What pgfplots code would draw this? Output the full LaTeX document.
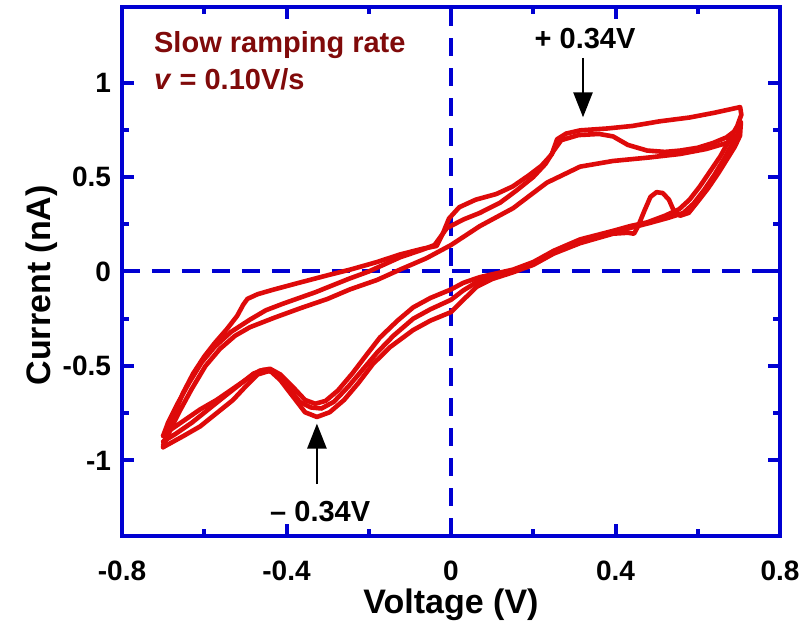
\documentclass[border=0pt]{standalone}
\usepackage{fontspec}
\setmainfont{Liberation Sans}
\usepackage{pgfplots}
\pgfplotsset{compat=1.18}
\usetikzlibrary{arrows.meta}
\definecolor{axblue}{RGB}{0,0,210}
\definecolor{cvred}{RGB}{222,10,10}
\definecolor{txtred}{RGB}{128,10,10}
\tikzset{cv/.style={cvred, line width=2.3pt, line join=round, line cap=round, mark=none}}

\begin{document}
\begin{tikzpicture}
\begin{axis}[
  scale only axis, width=329pt, height=264.5pt,
  xmin=-0.8, xmax=0.8, ymin=-1.4, ymax=1.4,
  xtick={-0.8,-0.4,0,0.4,0.8}, ytick={-1,-0.5,0,0.5,1},
  minor x tick num=1, minor y tick num=1,
  tick align=inside,
  major tick length=6pt, minor tick length=3.5pt,
  every tick/.style={axblue, line width=2pt},
  axis line style={axblue, line width=2pt},
  /pgf/number format/assume math mode=true,
  ticklabel style={font=\bfseries\fontsize{14}{14}\selectfont},
  xticklabel style={yshift=-9pt},
  yticklabel style={xshift=-2pt},
  xlabel={Voltage (V)}, ylabel={Current (nA)},
  label style={font=\bfseries\fontsize{17}{17}\selectfont},
  xlabel style={at={(axis description cs:0.5,-0.146)}, anchor=base},
  ylabel style={at={(axis description cs:-0.109,0.474)}, anchor=base, rotate=0},
]
\coordinate (bl) at (rel axis cs:0,0);
\coordinate (tr) at (rel axis cs:1,1);
\draw[axblue, line width=2pt, dash pattern=on 9pt off 6pt] (axis cs:-0.8,0) -- (axis cs:0.8,0);
\draw[axblue, line width=2pt, dash pattern=on 9pt off 6pt] (axis cs:0,-1.4) -- (axis cs:0,1.4);

% cycle A
\addplot[cv] coordinates {(-0.700,-0.920) (-0.690,-0.850) (-0.672,-0.750) (-0.652,-0.645) (-0.627,-0.540) (-0.600,-0.450) (-0.575,-0.380) (-0.545,-0.305) (-0.520,-0.235) (-0.505,-0.175) (-0.495,-0.145) (-0.470,-0.120) (-0.430,-0.095) (-0.370,-0.060) (-0.300,-0.020) (-0.245,0.010) (-0.180,0.050) (-0.124,0.090) (-0.070,0.120) (-0.035,0.135) (-0.020,0.200) (-0.005,0.280) (0.020,0.340) (0.060,0.380) (0.110,0.410) (0.150,0.450) (0.190,0.510) (0.220,0.560) (0.245,0.620) (0.258,0.700) (0.280,0.730) (0.314,0.747) (0.380,0.757) (0.440,0.770) (0.508,0.795) (0.580,0.815) (0.640,0.840) (0.703,0.870)
(0.706,0.830) (0.696,0.770) (0.678,0.700) (0.655,0.610) (0.630,0.530) (0.605,0.450) (0.580,0.380) (0.555,0.330) (0.520,0.295) (0.477,0.260) (0.435,0.240) (0.394,0.215) (0.314,0.170) (0.250,0.110) (0.200,0.050) (0.151,0.010) (0.100,-0.015) (0.070,-0.030) (0.030,-0.060) (0.000,-0.095) (-0.050,-0.140) (-0.092,-0.190) (-0.130,-0.260) (-0.173,-0.350) (-0.205,-0.440) (-0.240,-0.540) (-0.275,-0.630) (-0.305,-0.685) (-0.330,-0.700) (-0.355,-0.680) (-0.385,-0.610) (-0.415,-0.545) (-0.440,-0.515) (-0.465,-0.525) (-0.500,-0.575) (-0.530,-0.620) (-0.570,-0.680) (-0.610,-0.730) (-0.650,-0.790) (-0.680,-0.835) (-0.700,-0.870)};

% cycle B
\addplot[cv] coordinates {(-0.700,-0.870) (-0.688,-0.800) (-0.665,-0.700) (-0.637,-0.590) (-0.606,-0.480) (-0.575,-0.400) (-0.535,-0.320) (-0.489,-0.255) (-0.450,-0.205) (-0.408,-0.170) (-0.330,-0.110) (-0.250,-0.040) (-0.200,0.000) (-0.124,0.075) (-0.070,0.115) (-0.040,0.140) (-0.010,0.230) (0.030,0.275) (0.070,0.310) (0.120,0.365) (0.160,0.430) (0.200,0.500) (0.230,0.570) (0.250,0.640) (0.268,0.695) (0.310,0.722) (0.360,0.728) (0.394,0.715) (0.430,0.670) (0.477,0.640) (0.520,0.633) (0.557,0.640) (0.600,0.655) (0.637,0.680) (0.670,0.710) (0.700,0.760)
(0.703,0.720) (0.690,0.660) (0.670,0.590) (0.650,0.520) (0.625,0.440) (0.600,0.370) (0.578,0.310) (0.557,0.295) (0.542,0.320) (0.530,0.380) (0.515,0.415) (0.500,0.420) (0.485,0.395) (0.470,0.320) (0.455,0.240) (0.445,0.200) (0.430,0.205) (0.394,0.200) (0.314,0.150) (0.250,0.095) (0.200,0.035) (0.150,-0.005) (0.100,-0.040) (0.063,-0.080) (0.030,-0.150) (0.000,-0.215) (-0.050,-0.260) (-0.092,-0.310) (-0.148,-0.400) (-0.190,-0.490) (-0.225,-0.590) (-0.260,-0.680) (-0.295,-0.745) (-0.326,-0.770) (-0.355,-0.745) (-0.385,-0.660) (-0.415,-0.575) (-0.440,-0.525) (-0.470,-0.545) (-0.500,-0.610) (-0.530,-0.680) (-0.570,-0.750) (-0.610,-0.820) (-0.650,-0.870) (-0.700,-0.930)};

% cycle C
\addplot[cv] coordinates {(-0.700,-0.930) (-0.685,-0.850) (-0.660,-0.740) (-0.630,-0.620) (-0.597,-0.500) (-0.562,-0.410) (-0.525,-0.340) (-0.489,-0.295) (-0.430,-0.245) (-0.367,-0.195) (-0.300,-0.145) (-0.246,-0.095) (-0.180,-0.045) (-0.124,0.010) (-0.060,0.070) (0.000,0.140) (0.070,0.240) (0.151,0.335) (0.233,0.470) (0.314,0.555) (0.394,0.585) (0.480,0.603) (0.557,0.622) (0.620,0.648) (0.670,0.680) (0.703,0.730)
(0.705,0.790) (0.700,0.740) (0.685,0.680) (0.665,0.600) (0.640,0.510) (0.615,0.430) (0.590,0.360) (0.565,0.310) (0.530,0.285) (0.480,0.255) (0.435,0.230) (0.394,0.205) (0.314,0.160) (0.250,0.100) (0.200,0.045) (0.150,0.000) (0.100,-0.030) (0.060,-0.060) (0.030,-0.100) (0.000,-0.150) (-0.050,-0.200) (-0.092,-0.250) (-0.140,-0.340) (-0.180,-0.430) (-0.215,-0.520) (-0.250,-0.610) (-0.285,-0.690) (-0.315,-0.725) (-0.340,-0.720) (-0.368,-0.690) (-0.400,-0.600) (-0.430,-0.535) (-0.455,-0.520) (-0.480,-0.540) (-0.515,-0.600) (-0.550,-0.660) (-0.590,-0.730) (-0.630,-0.800) (-0.670,-0.860) (-0.700,-0.900)};

\node[anchor=base west, txtred, font=\bfseries\fontsize{14.5}{14.5}\selectfont] at (axis cs:-0.739,1.157) {Slow ramping rate};
\node[anchor=base west, txtred, font=\bfseries\fontsize{14.5}{14.5}\selectfont] at (axis cs:-0.739,0.965) {\textit{v} = 0.10V/s};
\node[anchor=base, font=\bfseries\fontsize{14.5}{14.5}\selectfont] at (axis cs:0.326,1.179) {+ 0.34V};
\node[anchor=base, font=\bfseries\fontsize{14.5}{14.5}\selectfont] at (axis cs:-0.318,-1.323) {\textendash\ 0.34V};
\draw[line width=1.3pt, -{Triangle[width=9.5pt,length=12.5pt]}] (axis cs:0.321,1.13) -- (axis cs:0.321,0.816);
\draw[line width=1.3pt, -{Triangle[width=9.5pt,length=12.5pt]}] (axis cs:-0.326,-1.125) -- (axis cs:-0.326,-0.805);
\end{axis}
\pgfresetboundingbox
\path[use as bounding box] ([xshift=-61pt,yshift=-49.5pt]bl) rectangle ([xshift=12pt,yshift=3.5pt]tr);
\end{tikzpicture}
\end{document}
